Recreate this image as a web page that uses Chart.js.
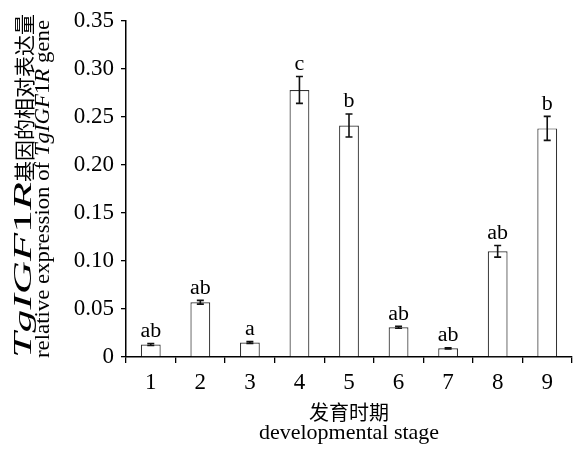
<!DOCTYPE html>
<html>
<head>
<meta charset="utf-8">
<script src="https://cdn.jsdelivr.net/npm/chart.js@4"></script>
<style>
html,body{margin:0;padding:0;background:#fff;}
#wrap{width:574px;height:449px;position:relative;}
</style>
</head>
<body>
<div id="wrap"><canvas id="c" width="574" height="449"></canvas></div>
<script>
const categories = ['1','2','3','4','5','6','7','8','9'];
const values = [0.013, 0.057, 0.015, 0.278, 0.241, 0.031, 0.009, 0.110, 0.238];
const errors = [0.001, 0.002, 0.001, 0.014, 0.012, 0.001, 0.0005, 0.006, 0.0125];
const letters = ['ab','ab','a','c','b','ab','ab','ab','b'];
const yTicks = [0, 0.05, 0.10, 0.15, 0.20, 0.25, 0.30, 0.35];
const yTickLabels = ['0','0.05','0.10','0.15','0.20','0.25','0.30','0.35'];

const SERIF = '"Liberation Serif", "DejaVu Serif", serif';
const CJK = '"Noto Sans CJK SC", sans-serif';

// [text, style, size, group]  group 'a' is stretched to fill, 'b' kept natural
const yTitleLines = [
  [['Tg','italic',26,'a'],['IGF','italic',26,'a'],['1','normal',26,'a'],['R','italic',26,'a'],['基因的相对表达量','cjk',21,'b']],
  [['relative expression of ','normal',22,'a'],['TgIGF','italic',22,'a'],['1','normal',22,'a'],['R','italic',22,'a'],[' gene','normal',22,'a']]
];

function fontFor(style, size){
  if(style==='cjk') return size + 'px ' + CJK;
  if(style==='italic') return 'italic ' + size + 'px ' + SERIF;
  return size + 'px ' + SERIF;
}

const annot = {
  id:'annot',
  afterDatasetsDraw(chart){
    const ctx = chart.ctx;
    const x = chart.scales.x, y = chart.scales.y;
    ctx.save();
    ctx.strokeStyle = '#111';
    ctx.lineWidth = 1.6;
    values.forEach((v,i)=>{
      const cx = x.getPixelForValue(i);
      const yt = y.getPixelForValue(v + errors[i]);
      const yb = y.getPixelForValue(v - errors[i]);
      ctx.beginPath();
      ctx.moveTo(cx, yt); ctx.lineTo(cx, yb);
      ctx.moveTo(cx-3.5, yt); ctx.lineTo(cx+3.5, yt);
      ctx.moveTo(cx-3.5, yb); ctx.lineTo(cx+3.5, yb);
      ctx.stroke();
      ctx.save();
      ctx.fillStyle = '#000';
      ctx.font = '20px ' + SERIF;
      ctx.textAlign = 'center';
      ctx.textBaseline = 'alphabetic';
      ctx.translate(cx, yt - 6.5);
      ctx.scale(1.1, 1);
      ctx.fillText(letters[i], 0, 0);
      ctx.restore();
    });
    const xs = [24, 43];
    const spans = [[14, 358], [20, 358]];
    ctx.fillStyle = '#000';
    yTitleLines.forEach((line, li)=>{
      ctx.save();
      const len = spans[li][1] - spans[li][0];
      ctx.translate(xs[li], spans[li][1]);
      ctx.rotate(-Math.PI/2);
      let wa = 0, wb = 0;
      line.forEach(s=>{ ctx.font = fontFor(s[1], s[2]); const w = ctx.measureText(s[0]).width; if(s[3]==='a') wa += w; else wb += w; });
      const k = (len - wb) / wa;
      let px = 0;
      ctx.textAlign = 'left';
      ctx.textBaseline = 'middle';
      line.forEach(s=>{
        ctx.font = fontFor(s[1], s[2]);
        const w = ctx.measureText(s[0]).width;
        const f = s[3]==='a' ? k : 1;
        ctx.save();
        ctx.translate(px, 0);
        ctx.scale(f, 1);
        ctx.fillText(s[0], 0, 0);
        ctx.restore();
        px += w * f;
      });
      ctx.restore();
    });
    const ca = chart.chartArea;
    const cxm = (ca.left + ca.right)/2;
    ctx.textAlign = 'center';
    ctx.textBaseline = 'middle';
    ctx.font = fontFor('cjk', 20);
    ctx.fillText('发育时期', cxm, 412);
    ctx.textBaseline = 'alphabetic';
    ctx.font = fontFor('normal', 22);
    ctx.fillText('developmental stage', cxm, 439);
    ctx.restore();
  }
};

new Chart(document.getElementById('c'), {
  type:'bar',
  data:{
    labels: categories,
    datasets:[{
      data: values,
      backgroundColor:'#ffffff',
      borderColor:'#333',
      borderWidth:1.2,
      barPercentage:0.4,
      categoryPercentage:1.0
    }]
  },
  options:{
    responsive:false,
    animation:false,
    devicePixelRatio:1,
    layout:{padding:{top:17,right:2,left:0,bottom:0}},
    plugins:{legend:{display:false},tooltip:{enabled:false}},
    scales:{
      x:{
        offset:true,
        grid:{display:true, drawOnChartArea:false, drawTicks:true, tickLength:6, color:'#000', lineWidth:1.3, offset:true},
        border:{display:true, color:'#000', width:1.5},
        ticks:{color:'#000', font:{family:SERIF, size:23}, padding:6},
        afterFit(s){ s.height = 92; }
      },
      y:{
        min:0, max:0.35,
        grid:{display:true, drawOnChartArea:false, drawTicks:true, tickLength:5, color:'#000', lineWidth:1.3},
        border:{display:true, color:'#000', width:1.5},
        ticks:{color:'#000', font:{family:SERIF, size:23}, padding:7,
          callback:(v,i)=> yTickLabels[i]},
        afterBuildTicks(s){ s.ticks = yTicks.map(v=>({value:v})); },
        afterFit(s){ s.width = 126; }
      }
    }
  },
  plugins:[annot]
});
</script>
</body>
</html>
